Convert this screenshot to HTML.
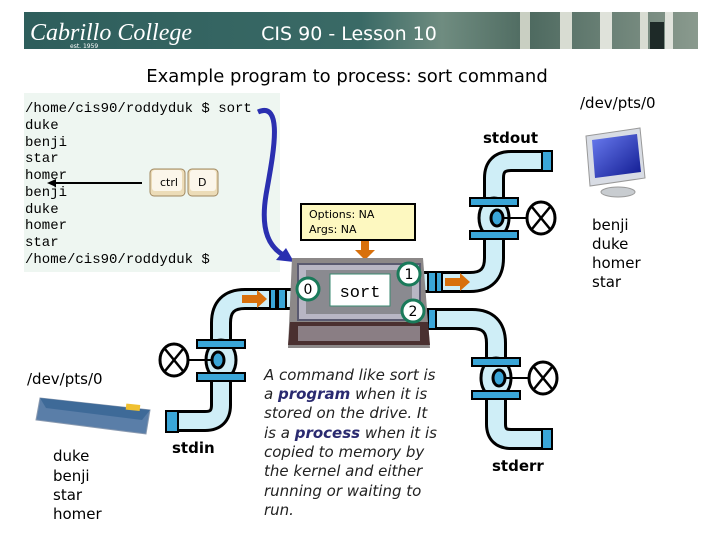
<!DOCTYPE html>
<html><head><meta charset="utf-8"><style>
body{margin:0;width:720px;height:540px;background:#fff;overflow:hidden;font-family:"DejaVu Sans","Liberation Sans",sans-serif;}
svg{position:absolute;left:0;top:0}
</style></head><body>
<svg width="720" height="540" viewBox="0 0 720 540" xmlns="http://www.w3.org/2000/svg">
<defs>
<linearGradient id="hdr" x1="0" x2="1" y1="0" y2="0">
<stop offset="0" stop-color="#2e5e5c"/><stop offset="0.5" stop-color="#3a6a66"/><stop offset="0.62" stop-color="#6f8c80"/><stop offset="0.75" stop-color="#4e6a60"/><stop offset="1" stop-color="#8a9a8e"/>
</linearGradient>
<linearGradient id="scr" x1="0" x2="1" y1="0" y2="1"><stop offset="0" stop-color="#6a7cf0"/><stop offset="1" stop-color="#101a90"/></linearGradient>
</defs>
<!-- header -->
<rect x="24" y="12" width="674" height="37" fill="url(#hdr)"/>
<rect x="520" y="12" width="10" height="37" fill="#c9cfc2"/><rect x="560" y="12" width="12" height="37" fill="#d8dcd2"/><rect x="600" y="12" width="12" height="37" fill="#dfe2da"/><rect x="640" y="12" width="8" height="37" fill="#d8dcd2"/><rect x="665" y="12" width="8" height="37" fill="#e0e3dc"/>
<rect x="650" y="22" width="14" height="27" fill="#1e2a28"/>
<text x="30" y="40" font-family="Liberation Serif,serif" font-style="italic" font-size="24" fill="#fff">Cabrillo College</text>
<text x="70" y="48" font-size="6" fill="#fff">est. 1959</text>
<text x="349" y="40" text-anchor="middle" font-size="19" fill="#fff">CIS 90 - Lesson 10</text>
<text x="347" y="82" text-anchor="middle" font-size="18" fill="#000">Example program to process: sort command</text>
<!-- terminal -->
<rect x="24" y="93" width="256" height="179" fill="#eef6f1"/>
<g font-family="Liberation Mono,monospace" font-size="14" fill="#000">
<text x="25" y="112">/home/cis90/roddyduk $ sort</text>
<text x="25" y="129">duke</text><text x="25" y="146">benji</text><text x="25" y="162">star</text><text x="25" y="179">homer</text><text x="25" y="196">benji</text><text x="25" y="213">duke</text><text x="25" y="229">homer</text><text x="25" y="246">star</text><text x="25" y="263">/home/cis90/roddyduk $</text>
</g>
<line x1="142" y1="183" x2="52" y2="183" stroke="#000" stroke-width="2"/><polygon points="47,183 56,179 56,187" fill="#000"/>
<rect x="150" y="169" width="35" height="27" rx="4" fill="#ecdcb8" stroke="#a08860"/><rect x="152" y="170" width="30" height="21" rx="3" fill="#fbf6ea"/>
<text x="160" y="186" font-size="11">ctrl</text>
<rect x="188" y="169" width="30" height="27" rx="4" fill="#ecdcb8" stroke="#a08860"/><rect x="190" y="170" width="26" height="21" rx="3" fill="#fbf6ea"/>
<text x="198" y="186" font-size="11">D</text>
<!-- blue arrow -->
<path d="M258,112 C285,100 272,160 266,195 C260,232 270,248 285,256" stroke="#2a2fb0" stroke-width="5" fill="none"/>
<polygon points="294,262 276,260 286,248" fill="#2a2fb0"/>
<!-- pipes -->
<g fill="none" stroke-linejoin="round">
<path id="p1" d="M420,282 H470 Q494,282 494,258 V178 Q494,161 511,161 H550"/>
<path id="p2" d="M300,299 H245 Q221,299 221,323 V405 Q221,421 205,421 H170"/>
<path id="p3" d="M420,319 H472 Q496,319 496,343 V424 Q496,439 511,439 H550"/>
</g>
<g fill="none" stroke="#000" stroke-width="22"><use href="#p1"/><use href="#p2"/><use href="#p3"/></g>
<g fill="none" stroke="#cfeef7" stroke-width="16"><use href="#p1"/><use href="#p2"/><use href="#p3"/></g>
<!-- end flanges -->
<g fill="#3aa6d8" stroke="#000" stroke-width="2">
<rect x="542" y="151" width="10" height="20"/><rect x="166" y="411" width="12" height="21"/><rect x="542" y="429" width="10" height="20"/>
<rect x="428" y="272" width="8" height="20"/><rect x="436" y="272" width="6" height="20"/>
<rect x="278" y="289" width="8" height="20"/><rect x="270" y="289" width="6" height="20"/>
<rect x="428" y="309" width="8" height="20"/>
</g>
<!-- valves -->
<g id="v1">
<ellipse cx="494" cy="218" rx="15" ry="20" fill="#cfeef7" stroke="#000" stroke-width="3"/>
<rect x="470" y="198" width="48" height="8" fill="#3aa6d8" stroke="#000" stroke-width="2"/>
<rect x="470" y="231" width="48" height="8" fill="#3aa6d8" stroke="#000" stroke-width="2"/>
<ellipse cx="497" cy="218" rx="6" ry="8" fill="#3aa6d8" stroke="#000" stroke-width="3"/>
<line x1="503" y1="218" x2="526" y2="218" stroke="#000" stroke-width="2"/>
<ellipse cx="541" cy="218" rx="14" ry="16" fill="#fff" stroke="#000" stroke-width="3"/>
<line x1="532" y1="207" x2="550" y2="229" stroke="#000" stroke-width="2.5"/><line x1="550" y1="207" x2="532" y2="229" stroke="#000" stroke-width="2.5"/>
</g>
<g transform="translate(-273,142)">
<ellipse cx="494" cy="218" rx="15" ry="20" fill="#cfeef7" stroke="#000" stroke-width="3"/>
<rect x="470" y="198" width="48" height="8" fill="#3aa6d8" stroke="#000" stroke-width="2"/>
<rect x="470" y="231" width="48" height="8" fill="#3aa6d8" stroke="#000" stroke-width="2"/>
<ellipse cx="491" cy="218" rx="6" ry="8" fill="#3aa6d8" stroke="#000" stroke-width="3"/>
<line x1="485" y1="218" x2="462" y2="218" stroke="#000" stroke-width="2"/>
<ellipse cx="447" cy="218" rx="14" ry="16" fill="#fff" stroke="#000" stroke-width="3"/>
<line x1="438" y1="207" x2="456" y2="229" stroke="#000" stroke-width="2.5"/><line x1="456" y1="207" x2="438" y2="229" stroke="#000" stroke-width="2.5"/>
</g>
<use href="#v1" transform="translate(2,160)"/>
<!-- orange arrows -->
<g fill="#d8700c">
<polygon points="445,278 460,278 460,273 470,282 460,291 460,286 445,286"/>
<polygon points="242,295 257,295 257,290 267,299 257,308 257,303 242,303"/>
<polygon points="361,240 369,240 369,250 375,250 365,260 355,250 361,250"/>
</g>
<!-- sort box -->
<polygon points="292,258 423,258 430,348 288,348" fill="#8c8888"/>
<rect x="298" y="264" width="122" height="56" fill="#b8b6c4" stroke="#5a5a70" stroke-width="2"/>
<rect x="306" y="270" width="106" height="44" fill="#8a8a90"/>
<polygon points="290,322 428,322 430,345 288,345" fill="#4a3030"/>
<rect x="298" y="326" width="122" height="15" fill="#8a7e84"/>
<rect x="330" y="274" width="60" height="32" fill="#fff" stroke="#3a8a70"/>
<text x="360" y="297" text-anchor="middle" font-family="Liberation Mono,monospace" font-size="17">sort</text>
<g fill="#fff" stroke="#1a7a5a" stroke-width="3" font-size="13">
<circle cx="308" cy="289" r="11"/><circle cx="409" cy="274" r="11"/><circle cx="413" cy="311" r="11"/>
</g>
<g font-size="14" text-anchor="middle"><text x="308" y="294">0</text><text x="409" y="279">1</text><text x="413" y="316">2</text></g>
<!-- options -->
<rect x="301" y="204" width="114" height="36" fill="#fdf8c0" stroke="#000" stroke-width="2"/>
<text x="309" y="218" font-size="11">Options: NA</text><text x="309" y="233" font-size="11">Args: NA</text>
<!-- monitor -->
<polygon points="586,136 640,128 645,178 590,186" fill="#d8dce4" stroke="#999"/>
<polygon points="592,140 637,134 641,172 595,178" fill="url(#scr)"/>
<ellipse cx="618" cy="192" rx="17" ry="5" fill="#c8ccd0" stroke="#999"/>
<!-- keyboard -->
<polygon points="40,398 150,410 146,434 36,420" fill="#5a7ea8" stroke="#8a9ab0"/>
<polygon points="40,398 150,410 142,420 46,408" fill="#3e6a98"/>
<rect x="126" y="404" width="14" height="6" fill="#f0c030" transform="rotate(6 130 407)"/>
<!-- labels -->
<g font-size="15" fill="#000">
<text x="580" y="108">/dev/pts/0</text>
<text x="483" y="143" font-weight="bold" font-size="15">stdout</text>
<text x="592" y="230">benji</text><text x="592" y="249">duke</text><text x="592" y="268">homer</text><text x="592" y="287">star</text>
<text x="27" y="384">/dev/pts/0</text>
<text x="53" y="461">duke</text><text x="53" y="481">benji</text><text x="53" y="500">star</text><text x="53" y="519">homer</text>
<text x="172" y="453" font-weight="bold">stdin</text>
<text x="492" y="471" font-weight="bold">stderr</text>
</g>
<g font-size="15" font-style="italic" fill="#222">
<text x="264" y="380">A command like sort is</text>
<text x="264" y="399">a <tspan font-weight="bold" fill="#2a2a70">program</tspan> when it is</text>
<text x="264" y="418">stored on the drive.  It</text>
<text x="264" y="438">is a <tspan font-weight="bold" fill="#2a2a70">process</tspan> when it is</text>
<text x="264" y="457">copied to memory by</text>
<text x="264" y="476">the kernel and either</text>
<text x="264" y="496">running or waiting to</text>
<text x="264" y="515">run.</text>
</g>
</svg>
</body></html>
